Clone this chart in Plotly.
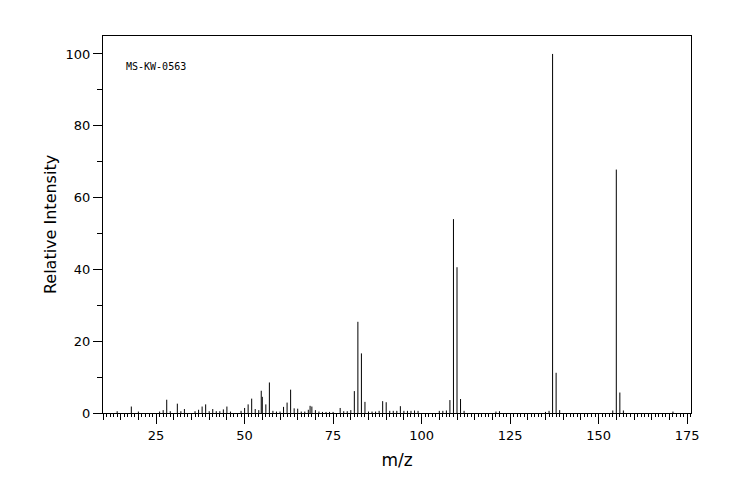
import plotly.graph_objects as go

# peak list
mz = [14, 18, 20, 26, 27, 28, 29, 31, 32, 33, 36, 37, 38, 39, 40, 41, 42, 43, 44, 45, 46,
      49, 50, 51, 52, 53, 54, 54.7, 55, 56, 57, 58, 59, 60, 61, 62, 63, 64, 65, 66, 67,
      68, 68.5, 69, 70, 71, 72, 73, 74, 75, 77, 78, 79, 80, 81, 82, 83, 84, 85, 86, 87, 88,
      89, 90, 91, 92, 93, 94, 95, 96, 97, 98, 99, 105, 106, 107, 108, 109, 110, 111, 112,
      121, 122, 135, 136, 137, 138, 139, 154, 155, 156, 157, 171]
intensity = [0.5, 1.8, 0.4, 0.4, 0.8, 3.7, 0.5, 2.6, 0.5, 1.1, 0.5, 0.9, 1.8, 2.4, 0.5, 1.1, 0.5, 0.5, 1.0, 1.8, 0.4,
             0.6, 1.4, 2.4, 4.0, 1.1, 0.8, 6.2, 4.5, 2.4, 8.5, 0.6, 0.4, 0.4, 1.7, 2.9, 6.5, 1.3, 1.2, 0.4, 0.4,
             0.9, 2.0, 1.8, 0.8, 0.4, 0.3, 0.3, 0.3, 0.3, 1.4, 0.5, 0.5, 0.8, 6.1, 25.4, 16.6, 3.1, 0.4, 0.4, 0.4, 0.6,
             3.3, 3.0, 0.6, 0.6, 0.6, 1.9, 0.6, 0.6, 0.6, 0.7, 0.6, 0.6, 0.6, 0.7, 3.6, 54.0, 40.6, 3.9, 0.6,
             0.4, 0.5, 0.3, 0.6, 100.0, 11.2, 0.8, 0.7, 67.8, 5.7, 0.7, 0.4]

x_range = [10, 176.1]
y_range = [0, 105]
x_tickvals = [25, 50, 75, 100, 125, 150, 175]
y_tickvals = [0, 20, 40, 60, 80, 100]
label = "MS-KW-0563"

xs, ys = [], []
for m, v in zip(mz, intensity):
    xs += [m, m, None]
    ys += [0, v, None]

fig = go.Figure()
fig.add_trace(go.Scatter(x=xs, y=ys, mode="lines",
                         line=dict(color="black", width=1),
                         hoverinfo="skip", showlegend=False))
# invisible trace on the overlay axis so it renders
fig.add_trace(go.Scatter(x=[x_range[0]], y=[0], xaxis="x2", mode="markers",
                         marker=dict(opacity=0), showlegend=False, hoverinfo="skip"))

font = "DejaVu Sans, Liberation Sans, sans-serif"
fig.update_layout(
    width=736, height=492,
    margin=dict(l=95, r=53, t=28, b=87),
    paper_bgcolor="white", plot_bgcolor="white",
    font=dict(family=font, color="black", size=13),
    xaxis=dict(range=x_range, tickvals=x_tickvals, ticks="outside", ticklen=10,
               tickwidth=1, tickcolor="black", showgrid=False, zeroline=False,
               showline=True, linecolor="black", linewidth=1, mirror=True,
               automargin=False,
               minor=dict(dtick=1, tick0=0, ticks="outside", ticklen=3,
                          tickcolor="black", tickwidth=1, showgrid=False),
               title=dict(text="m/z", font=dict(size=17), standoff=12),
               tickfont=dict(size=13)),
    xaxis2=dict(range=x_range, overlaying="x", side="bottom", anchor="y",
                dtick=5, tick0=0, ticks="outside", ticklen=6, tickwidth=1,
                tickcolor="black", showticklabels=False, showgrid=False,
                zeroline=False, showline=False, automargin=False),
    yaxis=dict(range=y_range, tickvals=y_tickvals, ticks="outside", ticklen=9,
               tickwidth=1, tickcolor="black", showgrid=False, zeroline=False,
               showline=True, linecolor="black", linewidth=1, mirror=True,
               automargin=False,
               minor=dict(dtick=10, tick0=0, ticks="outside", ticklen=5,
                          tickcolor="black", tickwidth=1, showgrid=False),
               title=dict(text="Relative Intensity", font=dict(size=16), standoff=4),
               tickfont=dict(size=13)),
    annotations=[dict(text=label, xref="paper", yref="paper", x=0.036, y=0.92,
                      xanchor="left", yanchor="middle", showarrow=False,
                      font=dict(family="DejaVu Sans Mono, monospace", size=10, color="black"))],
)

fig.write_html("out.html")
